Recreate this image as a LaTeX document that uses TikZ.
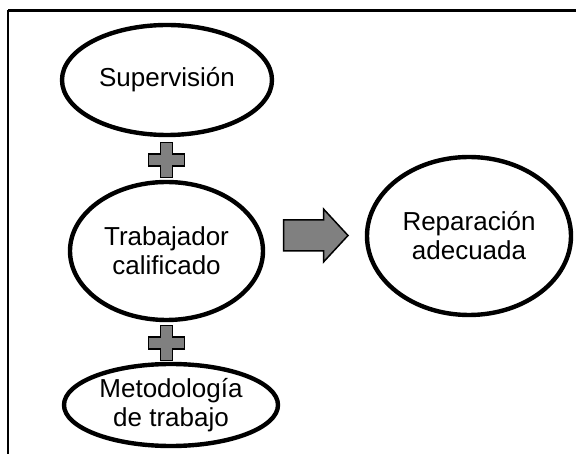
\documentclass[tikz,border=0pt]{standalone}
\usepackage{fontspec}
\setmainfont{Liberation Sans}
\usetikzlibrary{shapes.geometric}
\begin{document}
\begin{tikzpicture}[x=1pt,y=-1pt,
  oval/.style={draw=black, line width=4.4pt, ellipse, inner sep=0pt, fill=white,
    align=center, font=\fontsize{26}{29}\selectfont},
  symb/.style={draw=black, line width=1.5pt, fill=black!50, line join=miter}]
\useasboundingbox (0,0) rectangle (576,454);
\fill[white] (0,0) rectangle (576,454);
% frame
\coordinate (tl) at (8,10.5);
\coordinate (tr) at (576,10.5);
\coordinate (bl) at (8,454);
\draw[line width=2.2pt] (tl) -- (tr);
\draw[line width=1.5pt] (tl) -- (bl);
% ellipses
\node[oval, minimum width=210pt, minimum height=110pt] (sup) at (167,80) {Supervisión};
\node[oval, minimum width=193pt, minimum height=138pt] (trab) at (166.5,251) {Trabajador\\calificado};
\node[oval, minimum width=204pt, minimum height=158pt] (rep) at (469,236) {Reparación\\adecuada};
\node[oval, minimum width=214pt, minimum height=82pt] (met) at (171,405) {Metodología\\de trabajo};
% plus signs
\coordinate (p1) at (166.5,160);
\coordinate (p2) at (166.5,343);
\foreach \p in {p1,p2}{
  \begin{scope}[shift={(\p)}]
    \draw[symb] (-6,-17.5) -- (6,-17.5) -- (6,-6) -- (18,-6) -- (18,6) -- (6,6) -- (6,17.5)
      -- (-6,17.5) -- (-6,6) -- (-18,6) -- (-18,-6) -- (-6,-6) -- cycle;
  \end{scope}
}
% arrow
\coordinate (arr) at (283.5,235.5);
\begin{scope}[shift={(arr)}]
  \draw[symb] (0,-15.5) -- (40,-15.5) -- (40,-26.5) -- (64.5,0) -- (40,26.5) -- (40,15.5)
    -- (0,15.5) -- cycle;
\end{scope}
\end{tikzpicture}
\end{document}
